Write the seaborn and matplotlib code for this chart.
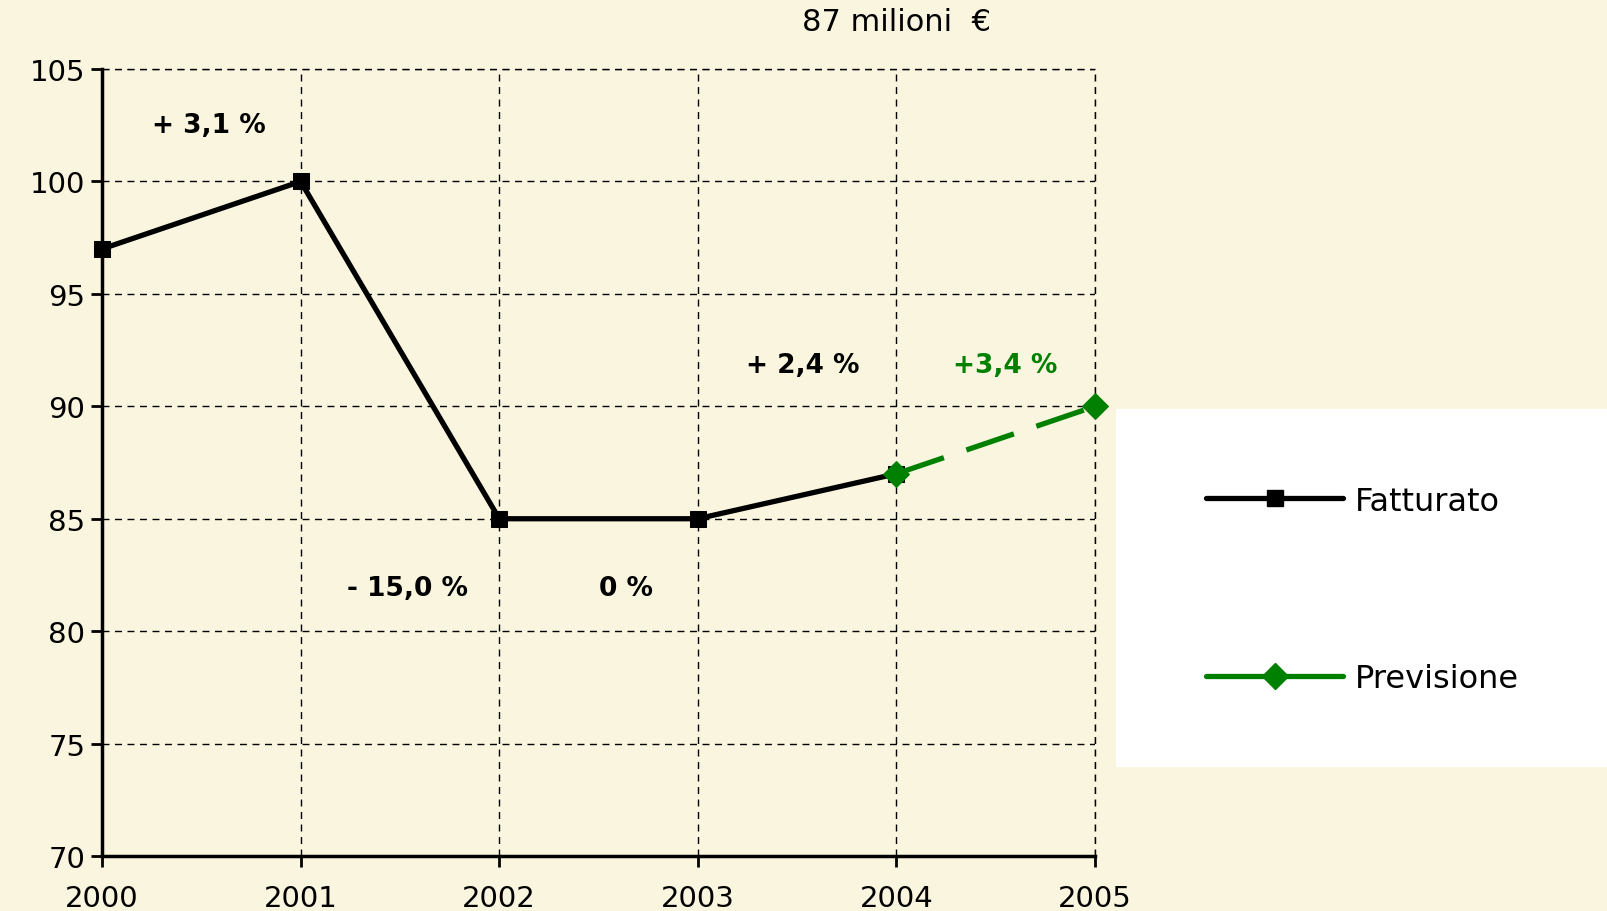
import matplotlib
matplotlib.use("Agg")
import matplotlib.pyplot as plt
import seaborn as sns
import pandas as pd
from matplotlib.patches import Rectangle
from matplotlib.lines import Line2D

# ---- data ----
years_fatt = [2000, 2001, 2002, 2003, 2004]
fatturato = [97, 100, 85, 85, 87]
years_prev = [2004, 2005]
previsione = [87, 90]
x_ticks = [2000, 2001, 2002, 2003, 2004, 2005]
y_ticks = [70, 75, 80, 85, 90, 95, 100, 105]
ann_text = ["+ 3,1 %", "- 15,0 %", "0 %", "+ 2,4 %", "+3,4 %"]
ann_x = [2000.54, 2001.54, 2002.64, 2003.53, 2004.55]
ann_y = [102.5, 81.9, 81.9, 91.85, 91.85]
ann_color = ["black", "black", "black", "black", "#008000"]
title = "87 milioni  €"

BG = "#F9F5DF"
GREEN = "#008000"

sns.set_theme(style="white")
plt.rcParams["font.family"] = ["DejaVu Sans"]

fig = plt.figure(figsize=(16.07, 9.12), dpi=100, facecolor=BG)
ax = fig.add_axes([0.0635, 0.0603, 0.6179, 0.8629])
ax.set_facecolor(BG)

df_f = pd.DataFrame({"anno": years_fatt, "valore": fatturato})
df_p = pd.DataFrame({"anno": years_prev, "valore": previsione})

sns.lineplot(data=df_f, x="anno", y="valore", ax=ax, color="black", lw=3.8,
             marker="s", markersize=12, markeredgecolor="black", legend=False)
sns.lineplot(data=df_p, x="anno", y="valore", ax=ax, color=GREEN, lw=3.8,
             marker="D", markersize=13, markeredgecolor=GREEN, legend=False)
lines = ax.get_lines()
l_fatt, l_prev = lines[0], lines[1]
l_prev.set_dashes([9.5, 4.5])
l_fatt.set_zorder(5)
l_prev.set_zorder(6)
for l in lines:
    l.set_clip_on(False)

ax.set_xlim(2000, 2005)
ax.set_ylim(70, 105)
ax.set_xticks(x_ticks)
ax.set_yticks(y_ticks)
ax.set_xticklabels([str(v) for v in x_ticks], fontsize=21)
ax.set_yticklabels([str(v) for v in y_ticks], fontsize=21)
ax.set_xlabel("")
ax.set_ylabel("")
ax.grid(True, color="black", linestyle=(0, (5, 4)), linewidth=1.0)
ax.axvline(2005, color="black", linestyle=(0, (5, 4)), linewidth=1.0,
           clip_on=False, zorder=1)
ax.axhline(105, color="black", linestyle=(0, (5, 4)), linewidth=1.0,
           clip_on=False, zorder=1)
for s in ["top", "right"]:
    ax.spines[s].set_visible(False)
for s in ["left", "bottom"]:
    ax.spines[s].set_color("black")
    ax.spines[s].set_linewidth(2.5)
ax.tick_params(axis="both", which="both", direction="out", length=8, width=2,
               color="black", labelcolor="black", left=True, bottom=True)
ax.tick_params(axis="x", pad=12)
ax.tick_params(axis="y", pad=4)

for t, x, y, c in zip(ann_text, ann_x, ann_y, ann_color):
    ax.text(x, y, t, ha="center", va="center", fontsize=19, fontweight="bold",
            color=c)

fig.text(0.558, 0.975, title, ha="center", va="center", fontsize=22,
         color="black")

# legend panel
fig.patches.append(Rectangle((1116 / 1607, 1 - 768 / 912), 1 - 1116 / 1607,
                             (768 - 410) / 912, transform=fig.transFigure,
                             facecolor="white", edgecolor="none", zorder=0))
h_fatt = Line2D([], [], color="black", lw=3.8, marker="s", markersize=11)
h_prev = Line2D([], [], color=GREEN, lw=3.8, marker="D", markersize=13)
leg = fig.legend([h_fatt, h_prev], ["Fatturato", "Previsione"],
                 loc="center left", bbox_to_anchor=(1190 / 1607, 1 - 591 / 912),
                 frameon=False, fontsize=23, handlelength=4.3,
                 labelspacing=4.6, handletextpad=0.35, borderpad=0)
for t in leg.get_texts():
    t.set_color("black")

fig.savefig("out.png", dpi=100, facecolor=BG)
